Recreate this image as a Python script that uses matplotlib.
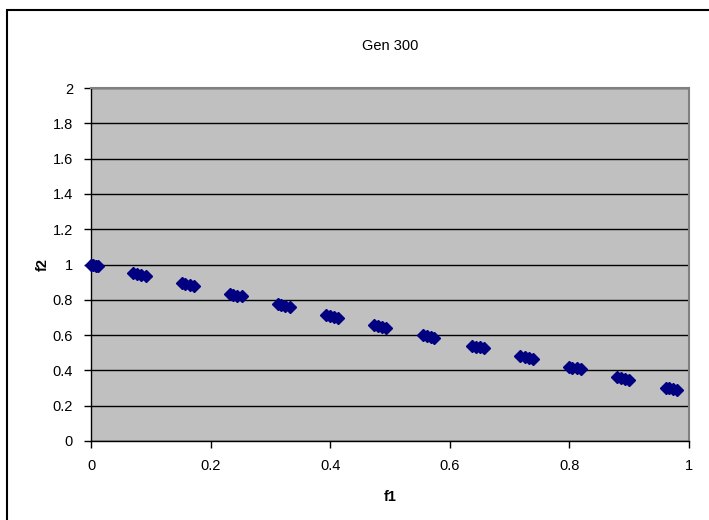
import matplotlib.pyplot as plt
from matplotlib.patches import Rectangle

# ========== DATA ==========

f1 = [
    0.000, 0.004, 0.008, 0.011,
    0.070, 0.077, 0.084, 0.092,
    0.152, 0.158, 0.165, 0.172,
    0.232, 0.238, 0.244, 0.252,
    0.312, 0.318, 0.325, 0.333,
    0.393, 0.399, 0.406, 0.413,
    0.474, 0.480, 0.487, 0.494,
    0.556, 0.562, 0.568, 0.574,
    0.637, 0.643, 0.650, 0.657,
    0.718, 0.725, 0.732, 0.739,
    0.799, 0.805, 0.812, 0.819,
    0.880, 0.886, 0.893, 0.900,
    0.961, 0.967, 0.974, 0.980,
]
f2 = [
    1.000, 0.997, 0.994, 0.991,
    0.953, 0.947, 0.941, 0.935,
    0.893, 0.887, 0.882, 0.876,
    0.833, 0.829, 0.824, 0.819,
    0.775, 0.770, 0.765, 0.760,
    0.714, 0.709, 0.704, 0.699,
    0.656, 0.651, 0.646, 0.641,
    0.598, 0.593, 0.588, 0.584,
    0.540, 0.535, 0.530, 0.525,
    0.480, 0.476, 0.471, 0.466,
    0.421, 0.416, 0.411, 0.406,
    0.362, 0.357, 0.352, 0.347,
    0.303, 0.299, 0.294, 0.289,
]
x_ticks = [0, 0.2, 0.4, 0.6, 0.8, 1]
x_tick_labels = ["0", "0.2", "0.4", "0.6", "0.8", "1"]
y_ticks = [0, 0.2, 0.4, 0.6, 0.8, 1, 1.2, 1.4, 1.6, 1.8, 2]
y_tick_labels = ["0", "0.2", "0.4", "0.6", "0.8", "1", "1.2", "1.4", "1.6", "1.8", "2"]

# ========== PLOT ==========

plt.rcParams['font.family'] = ['Liberation Sans', 'DejaVu Sans']

fig = plt.figure(figsize=(7.09, 5.2), dpi=100)
fig.patch.set_facecolor('white')

# outer chart frame (only left/top edges visible in the reference)
fig.patches.append(Rectangle((7 / 709, -0.05), 1.2, 1 - 10 / 520 + 0.05,
                             transform=fig.transFigure, fill=False,
                             edgecolor='black', linewidth=1.5))

ax = fig.add_axes([91 / 709, 1 - 441 / 520, 598 / 709, 353 / 520])
ax.set_facecolor('#c0c0c0')

ax.set_xlim(0, 1)
ax.set_ylim(0, 2)
ax.set_xticks(x_ticks)
ax.set_xticklabels(x_tick_labels)
ax.set_yticks(y_ticks)
ax.set_yticklabels(y_tick_labels)

ax.grid(axis='y', color='black', linewidth=1)
ax.set_axisbelow(True)

for side in ['top', 'right']:
    ax.spines[side].set_color('#808080')
    ax.spines[side].set_linewidth(1.5)
for side in ['left', 'bottom']:
    ax.spines[side].set_color('black')
    ax.spines[side].set_linewidth(1)

ax.tick_params(axis='both', direction='out', length=5, width=1,
               labelsize=10.5, colors='black', pad=8)

ax.plot(f1, f2, linestyle='none', marker='D', markersize=6.5,
        color='#000080', markeredgecolor='#000080', clip_on=False, zorder=3)

ax.set_title("Gen 300", fontsize=10.5, pad=27)
ax.set_xlabel("f1", fontsize=10.5, fontweight='bold', labelpad=12)
ax.set_ylabel("f2", fontsize=10.5, fontweight='bold', labelpad=2)

fig.savefig("out.png", dpi=100)
